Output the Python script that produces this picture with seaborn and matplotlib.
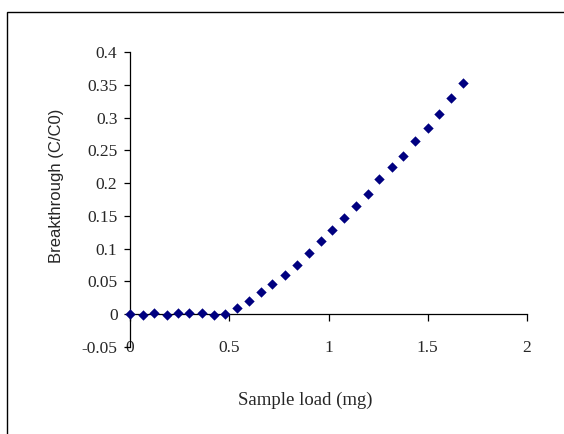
import numpy as np
import pandas as pd
import matplotlib
matplotlib.use("Agg")
import matplotlib.pyplot as plt
import matplotlib.ticker as mticker
from matplotlib.patches import Rectangle
import seaborn as sns

# Breakthrough curve values
sample_load = [0.0, 0.064, 0.121, 0.185, 0.240, 0.299, 0.361, 0.423, 0.480,
               0.537, 0.600, 0.662, 0.717, 0.779, 0.840, 0.900, 0.961, 1.018,
               1.080, 1.139, 1.199, 1.256, 1.320, 1.375, 1.437, 1.500, 1.558,
               1.619, 1.676]
breakthrough = [0.0, -0.001, 0.0026, -0.0015, 0.0026, 0.0026, 0.0026, -0.001, 0.0,
                0.0091, 0.0198, 0.0335, 0.046, 0.0605, 0.0752, 0.093, 0.1117, 0.129,
                0.1468, 0.1657, 0.183, 0.2058, 0.2245, 0.2413, 0.2642, 0.284, 0.306,
                0.3297, 0.3532]
x_ticks = [0, 0.5, 1, 1.5, 2]
y_ticks = [-0.05, 0, 0.05, 0.1, 0.15, 0.2, 0.25, 0.3, 0.35, 0.4]


def plot_breakthrough():
    df = pd.DataFrame({"load": sample_load, "ct": breakthrough})

    sns.set_style("white")
    plt.rcParams["font.family"] = ["Liberation Serif", "DejaVu Serif"]
    plt.rcParams["axes.unicode_minus"] = False

    fig = plt.figure(figsize=(5.64, 4.34), dpi=100)
    ax = fig.add_axes([130 / 564, 87 / 434, 397 / 564, 295 / 434])

    sns.scatterplot(data=df, x="load", y="ct", marker="D", s=28,
                    color="#000080", edgecolor="#000080", linewidth=0,
                    ax=ax, zorder=5, clip_on=False)

    ax.set_xlim(0, 2)
    ax.set_ylim(-0.05, 0.4)
    ax.set_xticks(x_ticks)
    ax.set_yticks(y_ticks)
    fmt = mticker.FuncFormatter(lambda v, p: "%g" % round(v, 3))
    ax.xaxis.set_major_formatter(fmt)
    ax.yaxis.set_major_formatter(fmt)

    for side in ["top", "right", "bottom"]:
        ax.spines[side].set_visible(False)
    ax.spines["left"].set_color("black")
    ax.spines["left"].set_linewidth(0.9)

    ax.tick_params(axis="y", direction="out", length=4, width=0.9,
                   color="black", pad=5, labelsize=12.5, left=True)
    ax.tick_params(axis="x", length=0, pad=-5, labelsize=12.5, bottom=True)

    # horizontal axis line crossing at y = 0 with downward ticks
    zero_pos = (0 - (-0.05)) / 0.45
    sec = ax.secondary_xaxis(zero_pos)
    sec.set_xticks(x_ticks)
    sec.tick_params(direction="out", length=5, width=0.9, color="black",
                    labelbottom=False, labeltop=False)
    for sp in sec.spines.values():
        sp.set_color("black")
        sp.set_linewidth(0.9)

    ax.set_xlabel("Sample load (mg)", fontsize=13.5)
    ax.xaxis.set_label_coords((305 - 130) / 397, (347 - 392) / 295)
    ax.set_ylabel("Breakthrough (C/C0)", fontsize=12,
                  family=["Liberation Sans", "DejaVu Sans"])
    ax.yaxis.set_label_coords((64 - 130) / 397, (347 - 186) / 295)

    # outer chart frame
    fig.patches.append(Rectangle((7 / 564, -0.1), 1.2, 1 - 11.5 / 434 + 0.1,
                                 transform=fig.transFigure, fill=False,
                                 edgecolor="black", linewidth=1.0))

    fig.savefig("out.png", dpi=100)


if __name__ == "__main__":
    plot_breakthrough()
